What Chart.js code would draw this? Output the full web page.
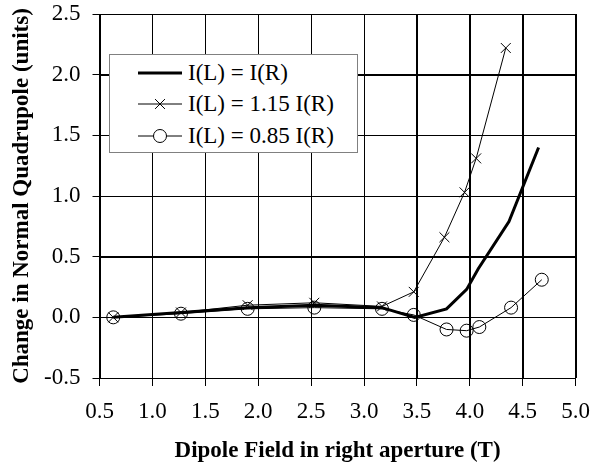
<!DOCTYPE html>
<html>
<head>
<meta charset="utf-8">
<script src="https://cdn.jsdelivr.net/npm/chart.js@4/dist/chart.umd.min.js"></script>
<style>
  html, body { margin: 0; padding: 0; background: #fff; }
  #wrap { position: relative; width: 602px; height: 465px; }
  #chart { display: block; }
  #legend {
    position: absolute; left: 109px; top: 54px; width: 247px; height: 97px;
    background: #fff; border: 1px solid #808080;
    font-family: 'Liberation Serif', 'Times New Roman', serif; font-size: 23px; color: #000;
  }
  .row { position: absolute; left: 28px; height: 26px; display: flex; align-items: center; white-space: nowrap; }
  .row svg { margin-right: 6px; }
</style>
</head>
<body>
<div id="wrap">
  <canvas id="chart" width="602" height="465"></canvas>
  <div id="legend"></div>
</div>
<script>
// values
const seriesNames = ['I(L) = I(R)', 'I(L) = 1.15 I(R)', 'I(L) = 0.85 I(R)'];

const fieldSame = [0.63, 1.27, 1.90, 2.53, 3.17, 3.48, 3.78, 3.97, 4.08, 4.37, 4.65];
const quadSame  = [0.00, 0.04, 0.08, 0.10, 0.08, 0.00, 0.07, 0.23, 0.40, 0.79, 1.40];

const fieldHigh = [0.63, 1.27, 1.90, 2.53, 3.17, 3.47, 3.76, 3.95, 4.06, 4.34];
const quadHigh  = [0.00, 0.04, 0.10, 0.12, 0.09, 0.21, 0.66, 1.03, 1.31, 2.22];

const fieldLow = [0.63, 1.27, 1.90, 2.53, 3.17, 3.47, 3.78, 3.97, 4.09, 4.39, 4.68];
const quadLow  = [0.00, 0.03, 0.07, 0.08, 0.07, 0.02, -0.10, -0.11, -0.08, 0.08, 0.31];

const xTicks = [0.5, 1.0, 1.5, 2.0, 2.5, 3.0, 3.5, 4.0, 4.5, 5.0];
const yTicks = [-0.5, 0.0, 0.5, 1.0, 1.5, 2.0, 2.5];

const FONT = "'Liberation Serif', 'Times New Roman', serif";

function toPoints(xs, ys) {
    return xs.map((x, i) => ({ x: x, y: ys[i] }));
}

// plot gridlines + frame, drawn from the scales' own ticks
const plotGrid = {
    id: 'plotGrid',
    afterDatasetsDraw(chart) {
        const { ctx, chartArea: a, scales } = chart;
        const snap = (p) => Math.round(p) + 0.5;
        ctx.save();
        ctx.strokeStyle = '#000';
        ctx.lineWidth = 1;
        ctx.beginPath();
        scales.x.ticks.forEach(t => {
            const px = snap(scales.x.getPixelForValue(t.value));
            ctx.moveTo(px, a.top);
            ctx.lineTo(px, a.bottom);
        });
        scales.y.ticks.forEach(t => {
            const py = snap(scales.y.getPixelForValue(t.value));
            ctx.moveTo(a.left, py);
            ctx.lineTo(a.right, py);
        });
        ctx.stroke();
        ctx.restore();
    }
};

const chart = new Chart(document.getElementById('chart'), {
    type: 'scatter',
    data: {
        datasets: [
            { label: seriesNames[0], data: toPoints(fieldSame, quadSame), showLine: true,
              borderColor: '#000', borderWidth: 3, pointRadius: 0, tension: 0 },
            { label: seriesNames[1], data: toPoints(fieldHigh, quadHigh), showLine: true,
              borderColor: '#000', borderWidth: 1, pointStyle: 'crossRot', pointRadius: 7,
              pointBackgroundColor: 'rgba(0,0,0,0)', pointBorderWidth: 1 },
            { label: seriesNames[2], data: toPoints(fieldLow, quadLow), showLine: true,
              borderColor: '#000', borderWidth: 1, pointStyle: 'circle', pointRadius: 6.5,
              pointBackgroundColor: 'rgba(0,0,0,0)', pointBorderWidth: 1 }
        ]
    },
    options: {
        responsive: false,
        animation: false,
        events: [],
        layout: { padding: { top: 14, right: 25, left: 0, bottom: 0 } },
        plugins: { legend: { display: false }, tooltip: { enabled: false } },
        scales: {
            x: {
                type: 'linear', min: 0.5, max: 5.0,
                afterBuildTicks: (scale) => { scale.ticks = xTicks.map(v => ({ value: v })); },
                afterFit: (scale) => { scale.height = 87; },
                ticks: { color: '#000', font: { family: FONT, size: 23 }, padding: 12, maxRotation: 0,
                         callback: (v) => Number(v).toFixed(1) },
                grid: { color: '#000', lineWidth: 1, tickLength: 8, tickColor: '#000' },
                border: { color: '#000', width: 1 },
                title: { display: true, text: 'Dipole Field in right aperture (T)', color: '#000',
                         font: { family: FONT, size: 23, weight: 'bold' }, padding: { top: 0, bottom: 0 } }
            },
            y: {
                type: 'linear', min: -0.5, max: 2.5,
                afterBuildTicks: (scale) => { scale.ticks = yTicks.map(v => ({ value: v })); },
                afterFit: (scale) => { scale.width = 99.5; scale.paddingTop = 0; },
                ticks: { color: '#000', font: { family: FONT, size: 23 }, padding: 12,
                         callback: (v) => Number(v).toFixed(1) },
                grid: { color: '#000', lineWidth: 1, tickLength: 7, tickColor: '#000' },
                border: { color: '#000', width: 1 },
                title: { display: true, text: 'Change in Normal Quadrupole (units)', color: '#000',
                         font: { family: FONT, size: 23, weight: 'bold' }, padding: { top: 8, bottom: 0 } }
            }
        }
    },
    plugins: [plotGrid]
});

// legend box inside the plot (HTML, sample glyphs follow each dataset's style)
const legendBox = document.getElementById('legend');
const rowTops = [5, 36, 68];
chart.data.datasets.forEach((ds, i) => {
    let mark = '';
    if (ds.pointStyle === 'crossRot') {
        const r = ds.pointRadius * 0.707;
        mark = `<path d="M${22 - r} ${13 - r}L${22 + r} ${13 + r}M${22 - r} ${13 + r}L${22 + r} ${13 - r}" stroke="#000" stroke-width="1" fill="none"/>`;
    } else if (ds.pointStyle === 'circle') {
        mark = `<circle cx="22" cy="13" r="${ds.pointRadius}" stroke="#000" stroke-width="1" fill="#fff"/>`;
    }
    const row = document.createElement('div');
    row.className = 'row';
    row.style.top = rowTops[i] + 'px';
    row.innerHTML = `<svg width="44" height="26"><line x1="0" y1="13" x2="44" y2="13" stroke="#000" stroke-width="${ds.borderWidth}"/>${mark}</svg><span>${ds.label}</span>`;
    legendBox.appendChild(row);
});
</script>
</body>
</html>
